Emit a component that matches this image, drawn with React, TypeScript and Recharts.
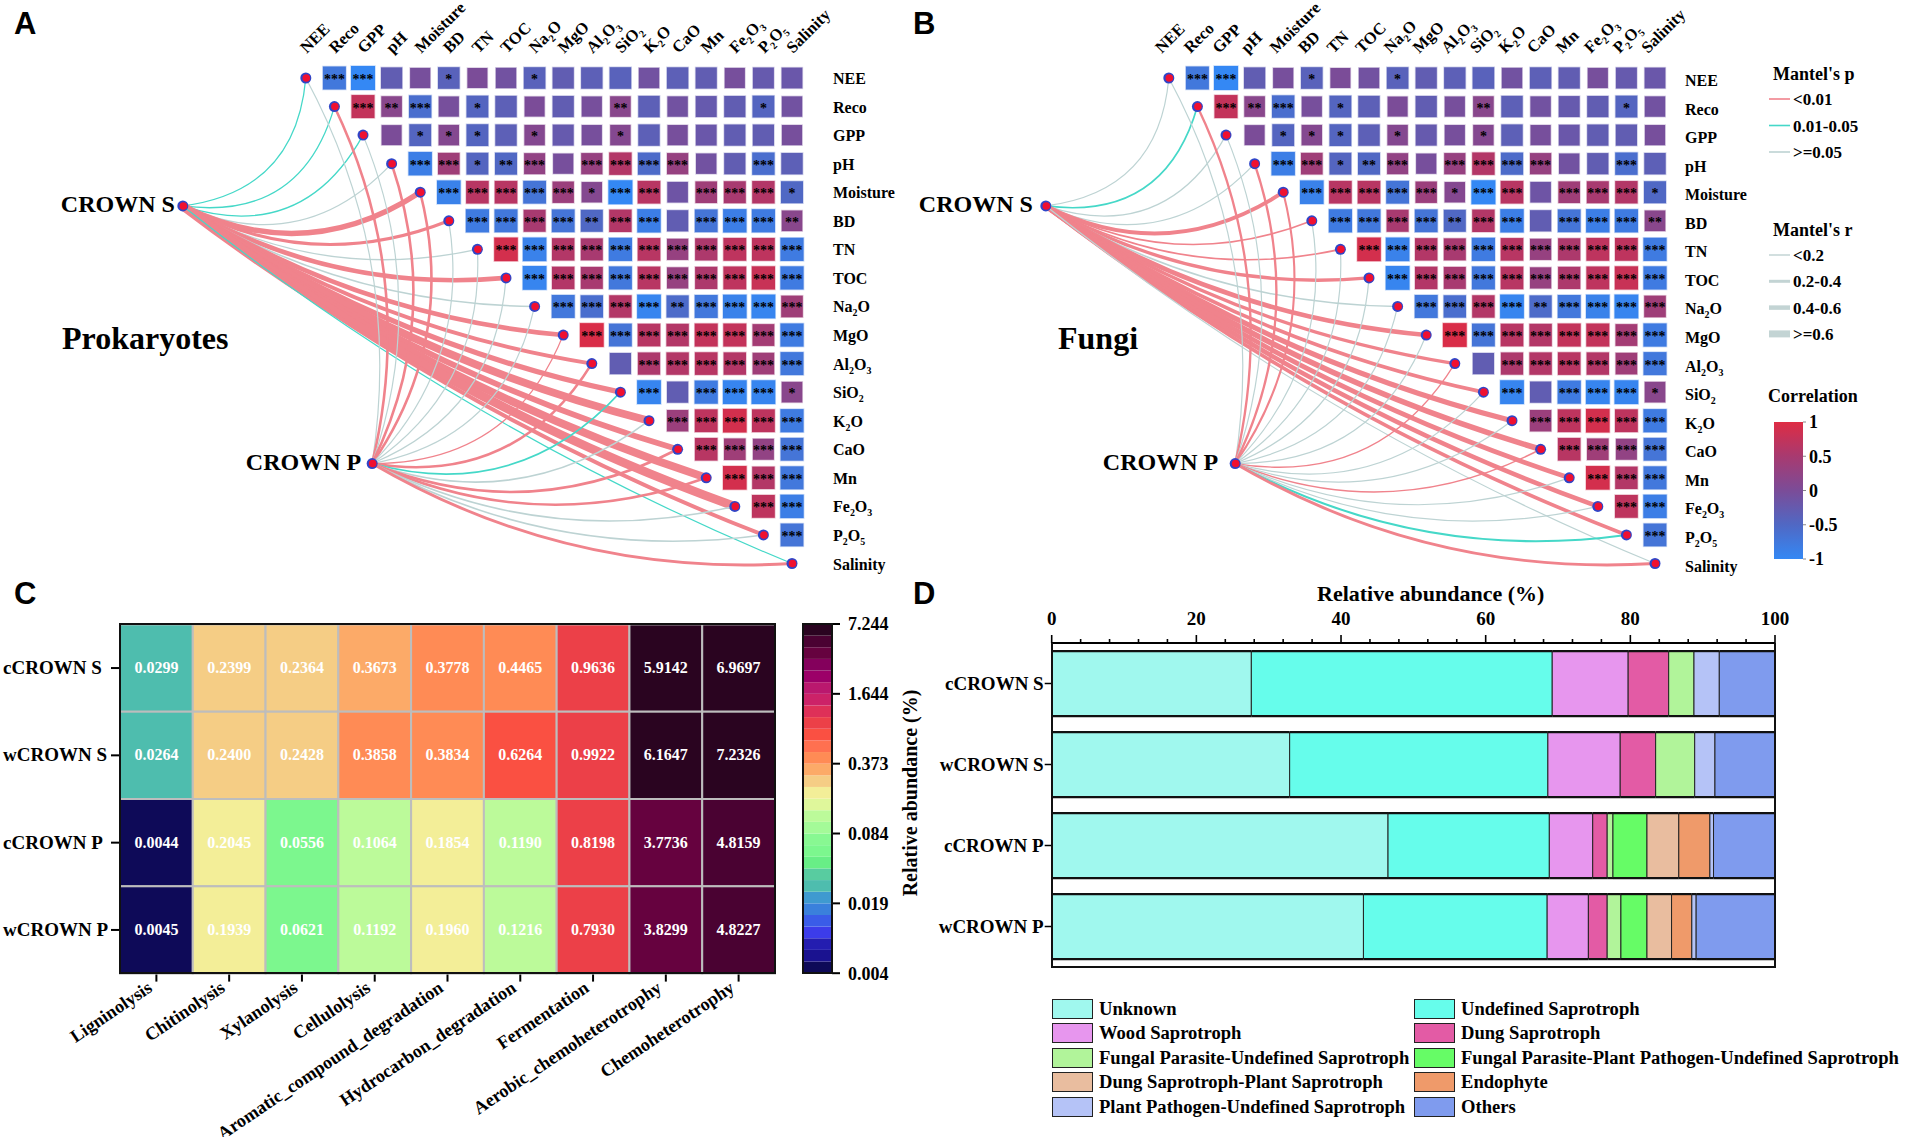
import { ScatterChart, Scatter, BarChart, Bar, XAxis, YAxis } from "recharts";

const SERIF = "'Liberation Serif', 'Times New Roman', serif";

// --- panels A and B ---
const envNames = ["NEE", "Reco", "GPP", "pH", "Moisture", "BD", "TN", "TOC", "Na2O", "MgO", "Al2O3", "SiO2", "K2O", "CaO", "Mn", "Fe2O3", "P2O5", "Salinity"];

// upper triangle, each row starts right of the diagonal
const corrRows = [
  [-0.75, -1, -0.3, -0.05, -0.4, 0, -0.1, -0.4, -0.3, -0.35, -0.4, -0.1, -0.35, -0.3, -0.05, -0.25, -0.2],
  [0.75, 0.15, -0.6, -0.05, -0.45, -0.35, 0, -0.3, -0.05, 0.15, -0.35, -0.1, -0.25, -0.3, -0.45, -0.1],
  [0, -0.45, 0.1, -0.45, -0.35, 0.1, -0.25, -0.05, 0.1, -0.35, -0.05, -0.2, -0.3, -0.3, -0.05],
  [-0.85, 0.4, -0.45, -0.5, 0.25, -0.05, 0.3, 0.6, -0.55, 0.3, -0.1, -0.3, -0.6, -0.35],
  [-0.9, 0.65, 0.65, -0.7, 0.35, 0.1, -1, 0.65, -0.15, 0.4, 0.5, 0.6, -0.5],
  [-0.8, -0.75, 0.5, -0.7, -0.5, 0.6, -0.85, -0.3, -0.7, -0.85, -0.8, 0.15],
  [0.9, -0.9, 0.6, 0.5, -0.8, 0.65, 0.3, 0.55, 0.7, 0.7, -0.8],
  [-0.95, 0.6, 0.5, -0.75, 0.65, 0.3, 0.55, 0.7, 0.8, -0.8],
  [-0.75, -0.6, 0.6, -0.95, -0.55, -0.75, -0.9, -0.95, 0.4],
  [0.95, -0.7, 0.65, 0.6, 0.75, 0.75, 0.45, -0.8],
  [-0.3, 0.55, 0.6, 0.65, 0.6, 0.4, -0.75],
  [-0.95, -0.3, -0.8, -0.95, -0.95, 0.15],
  [0.35, 0.7, 0.9, 0.7, -0.8],
  [0.65, 0.4, 0.25, -0.7],
  [0.9, 0.6, -0.75],
  [0.7, -0.85],
  [-0.7],
];

const starRows = [
  [3, 3, 0, 0, 1, 0, 0, 1, 0, 0, 0, 0, 0, 0, 0, 0, 0],
  [3, 2, 3, 0, 1, 0, 0, 0, 0, 2, 0, 0, 0, 0, 1, 0],
  [0, 1, 1, 1, 0, 1, 0, 0, 1, 0, 0, 0, 0, 0, 0],
  [3, 3, 1, 2, 3, 0, 3, 3, 3, 3, 0, 0, 3, 0],
  [3, 3, 3, 3, 3, 1, 3, 3, 0, 3, 3, 3, 1],
  [3, 3, 3, 3, 2, 3, 3, 0, 3, 3, 3, 2],
  [3, 3, 3, 3, 3, 3, 3, 3, 3, 3, 3],
  [3, 3, 3, 3, 3, 3, 3, 3, 3, 3],
  [3, 3, 3, 3, 2, 3, 3, 3, 3],
  [3, 3, 3, 3, 3, 3, 3, 3],
  [0, 3, 3, 3, 3, 3, 3],
  [3, 0, 3, 3, 3, 1],
  [3, 3, 3, 3, 3],
  [3, 3, 3, 3],
  [3, 3, 3],
  [3, 3],
  [3],
];

// Mantel p class (0: <0.01, 1: 0.01-0.05, 2: >=0.05) and Mantel r, one entry per variable
const prokSP = [1, 1, 1, 2, 0, 0, 2, 0, 2, 0, 0, 0, 0, 0, 0, 0, 0, 1];
const prokSR = [0.1, 0.1, 0.1, 0.1, 0.42, 0.24, 0.1, 0.36, 0.12, 0.36, 0.3, 0.4, 0.6, 0.44, 0.6, 0.68, 0.3, 0.08];
const prokPP = [2, 0, 2, 0, 0, 2, 2, 2, 2, 0, 0, 1, 2, 0, 0, 2, 2, 0];
const prokPR = [0.08, 0.2, 0.08, 0.2, 0.2, 0.08, 0.08, 0.08, 0.08, 0.09, 0.2, 0.12, 0.12, 0.2, 0.2, 0.12, 0.12, 0.22];

const fungiSP = [2, 1, 2, 2, 0, 0, 0, 0, 2, 0, 0, 0, 0, 0, 0, 0, 0, 2];
const fungiSR = [0.08, 0.13, 0.08, 0.08, 0.3, 0.13, 0.13, 0.26, 0.12, 0.36, 0.26, 0.28, 0.4, 0.44, 0.36, 0.36, 0.28, 0.08];
const fungiPP = [2, 0, 2, 0, 0, 2, 2, 2, 2, 2, 0, 2, 2, 0, 2, 2, 1, 0];
const fungiPR = [0.08, 0.18, 0.08, 0.18, 0.16, 0.08, 0.08, 0.08, 0.08, 0.08, 0.1, 0.08, 0.08, 0.12, 0.08, 0.08, 0.16, 0.22];

// hubs sit in the same row/column space as the variables
const hubS = { x: -4.3, y: 4.48 };
const hubP = { x: 2.32, y: 13.5 };

// how strongly a link bows, by the angle it leaves its hub at
const bendS = { base: 0.03, amp: 0.4, c0: -30, neg: 60, pos: 40 };
const bendP = { base: 0.1, amp: 0.24, c0: -30, neg: 62, pos: 35 };

const mantelColors = ["#F0838C", "#45D8C8", "#BDD3D3"];
const corrStops = ["#3488F4", "#5068C4", "#7B4C98", "#A83A70", "#DE2C44"];

const mix = (a: string, b: string, t: number) => {
  const pa = [1, 3, 5].map((i) => parseInt(a.slice(i, i + 2), 16));
  const pb = [1, 3, 5].map((i) => parseInt(b.slice(i, i + 2), 16));
  return `rgb(${pa.map((v, i) => Math.round(v + (pb[i] - v) * t)).join(",")})`;
};
const corrColor = (r: number) => {
  const t = ((r + 1) / 2) * (corrStops.length - 1);
  const i = Math.min(Math.floor(t), corrStops.length - 2);
  return mix(corrStops[i], corrStops[i + 1], t - i);
};

const corrCells = corrRows.flatMap((row, i) =>
  row.map((r, k) => ({ x: i + 1 + k, y: i, r, stars: starRows[i][k] }))
);
const nodes = envNames.map((name, i) => ({ x: i, y: i, name }));
const envTicks = envNames.map((_, i) => i);

// name with digits as subscripts
const subName = (name: string, size: number) => {
  const parts = name.split(/(\d)/).filter(Boolean);
  let sub = false;
  return parts.map((p, i) => {
    const isNum = /\d/.test(p);
    const dy = isNum ? 4 : sub ? -4 : 0;
    sub = isNum;
    return (
      <tspan key={i} dy={dy} fontSize={isNum ? size * 0.62 : size}>
        {p}
      </tspan>
    );
  });
};

const curveLine = (color: string, width: number, bend: any) => (props: any) => {
  const [a, b] = props.points;
  const dx = b.x - a.x;
  const dy = b.y - a.y;
  const deg = (Math.atan2(dy, dx) * 180) / Math.PI;
  const w = deg < bend.c0 ? bend.neg : bend.pos;
  const c = bend.base + bend.amp * Math.exp(-Math.pow((deg - bend.c0) / w, 2));
  const cx = (a.x + b.x) / 2 - dy * c;
  const cy = (a.y + b.y) / 2 + dx * c;
  return <path d={`M${a.x},${a.y} Q${cx},${cy} ${b.x},${b.y}`} fill="none" stroke={color} strokeWidth={width} />;
};

const cellShape = (p: any) => {
  const size = 20 + Math.abs(p.payload.r) * 4;
  const fill = corrColor(p.payload.r);
  return (
    <g>
      <rect x={p.cx - size / 2} y={p.cy - size / 2} width={size} height={size} fill={fill} stroke={fill} strokeOpacity={0.3} strokeWidth={1.5} />
      {p.payload.stars > 0 && (
        <text x={p.cx} y={p.cy + 6} textAnchor="middle" fontFamily={SERIF} fontWeight={700} fontSize={14} fill="#000">
          {"*".repeat(p.payload.stars)}
        </text>
      )}
    </g>
  );
};

const nodeShape = (p: any) => (
  <g>
    <circle cx={p.cx} cy={p.cy} r={5.5} fill="#2F45C8" />
    <circle cx={p.cx + 0.5} cy={p.cy} r={3.8} fill="#F01030" />
  </g>
);

const hubShape = (label: string, gap: number) => (p: any) => (
  <g>
    {nodeShape(p)}
    <text x={p.cx - gap} y={p.cy + 6} textAnchor="end" fontFamily={SERIF} fontWeight={700} fontSize={24} fill="#000">
      {label}
    </text>
  </g>
);

const topTick = (shift: number) => (p: any) => (
  <text transform={`translate(${p.x + shift},${p.y - 16}) rotate(-45)`} fontFamily={SERIF} fontWeight={700} fontSize={16.5} fill="#000">
    {subName(envNames[p.payload.value], 16.5)}
  </text>
);

const rowTick = (gap: number, drop: number) => (p: any) => (
  <text x={p.x + gap} y={p.y + 5 + drop} fontFamily={SERIF} fontWeight={700} fontSize={16} fill="#000">
    {subName(envNames[p.payload.value], 16)}
  </text>
);

function Network({ left, width, marginLeft, tickGap, tickDrop, topShift, gapS, gapP, sP, sR, pP, pR }: any) {
  const links = [
    ...sP.map((cls: number, i: number) => ({ hub: hubS, i, cls, r: sR[i], bend: bendS })),
    ...pP.map((cls: number, i: number) => ({ hub: hubP, i, cls, r: pR[i], bend: bendP })),
  ];
  return (
    <div style={{ position: "absolute", left, top: -20 }}>
      <ScatterChart width={width} height={610} margin={{ top: 0, right: 0, bottom: 26.5, left: marginLeft }}>
        <XAxis type="number" dataKey="x" orientation="top" domain={[-8, 17]} ticks={envTicks} interval={0} height={98} axisLine={false} tickLine={false} tick={topTick(topShift)} />
        <YAxis type="number" dataKey="y" orientation="right" domain={[0, 17]} reversed ticks={envTicks} interval={0} width={width - marginLeft - 715} axisLine={false} tickLine={false} tickSize={0} tickMargin={0} tick={rowTick(tickGap, tickDrop)} />
        {links.map((l: any, k: number) => (
          <Scatter
            key={k}
            data={[{ x: l.hub.x, y: l.hub.y }, nodes[l.i]]}
            line={curveLine(mantelColors[l.cls], Math.max(1.2, l.r * 13), l.bend)}
            shape={() => <g />}
            legendType="none"
            isAnimationActive={false}
          />
        ))}
        <Scatter data={corrCells} shape={cellShape} isAnimationActive={false} />
        <Scatter data={nodes} shape={nodeShape} isAnimationActive={false} />
        <Scatter data={[hubS]} shape={hubShape("CROWN S", gapS)} isAnimationActive={false} />
        <Scatter data={[hubP]} shape={hubShape("CROWN P", gapP)} isAnimationActive={false} />
      </ScatterChart>
    </div>
  );
}

// --- legends next to panel B ---
const mantelPLabels = ["<0.01", "0.01-0.05", ">=0.05"];
const mantelRLabels = ["<0.2", "0.2-0.4", "0.4-0.6", ">=0.6"];
const mantelRWidths = [1.5, 3, 4.5, 7];

function MantelLegend() {
  const t = { fontFamily: SERIF, fontWeight: 700, fill: "#000" };
  return (
    <svg style={{ position: "absolute", left: 1760, top: 60 }} width={148} height={360}>
      <text x={13} y={20} fontSize={18} {...t}>Mantel's p</text>
      {mantelPLabels.map((s, i) => (
        <g key={s}>
          <line x1={9} x2={30} y1={39 + i * 26.5} y2={39 + i * 26.5} stroke={mantelColors[i]} strokeWidth={1.6} />
          <text x={33} y={45 + i * 26.5} fontSize={17} {...t}>{s}</text>
        </g>
      ))}
      <text x={13} y={176} fontSize={18} {...t}>Mantel's r</text>
      {mantelRLabels.map((s, i) => (
        <g key={s}>
          <line x1={9} x2={30} y1={195 + i * 26.3} y2={195 + i * 26.3} stroke="#C3D4D4" strokeWidth={mantelRWidths[i]} />
          <text x={33} y={201 + i * 26.3} fontSize={17} {...t}>{s}</text>
        </g>
      ))}
      <text x={8} y={342} fontSize={18} {...t}>Correlation</text>
    </svg>
  );
}

const corrTicks = [-1, -0.5, 0, 0.5, 1];
const corrBar = [{ name: "corr", range: [-1, 1] }];

function CorrBar() {
  return (
    <div style={{ position: "absolute", left: 1774, top: 412 }}>
      <BarChart width={100} height={157} data={corrBar} margin={{ top: 10, right: 0, bottom: 10, left: 0 }} barCategoryGap={0}>
        <defs>
          <linearGradient id="corrGrad" x1="0" y1="1" x2="0" y2="0">
            {corrStops.map((c, i) => (
              <stop key={c} offset={i / (corrStops.length - 1)} stopColor={c} />
            ))}
          </linearGradient>
        </defs>
        <XAxis dataKey="name" hide />
        <YAxis type="number" orientation="right" domain={[-1, 1]} ticks={corrTicks} interval={0} width={71} axisLine={false} tickSize={3} tickMargin={3} tickLine={{ stroke: "#888" }} tick={{ fontFamily: SERIF, fontWeight: 700, fontSize: 18, fill: "#000" }} />
        <Bar dataKey="range" fill="url(#corrGrad)" isAnimationActive={false} />
      </BarChart>
    </div>
  );
}

// --- panel C ---
const heatCols = ["Ligninolysis", "Chitinolysis", "Xylanolysis", "Cellulolysis", "Aromatic_compound_degradation", "Hydrocarbon_degradation", "Fermentation", "Aerobic_chemoheterotrophy", "Chemoheterotrophy"];
const heatRows = ["cCROWN S", "wCROWN S", "cCROWN P", "wCROWN P"];
const cCrownS = [0.0299, 0.2399, 0.2364, 0.3673, 0.3778, 0.4465, 0.9636, 5.9142, 6.9697];
const wCrownS = [0.0264, 0.24, 0.2428, 0.3858, 0.3834, 0.6264, 0.9922, 6.1647, 7.2326];
const cCrownP = [0.0044, 0.2045, 0.0556, 0.1064, 0.1854, 0.119, 0.8198, 3.7736, 4.8159];
const wCrownP = [0.0045, 0.1939, 0.0621, 0.1192, 0.196, 0.1216, 0.793, 3.8299, 4.8227];
const heatScaleTicks = ["0.004", "0.019", "0.084", "0.373", "1.644", "7.244"];

// colour levels, highest value first
const heatLevels = ["#2A0420", "#4A0232", "#66023F", "#84005C", "#9C0068", "#BA186E", "#CC2268", "#DE3058", "#EC4048", "#FA5042", "#FF7050", "#FF8B55", "#FCAA68", "#F5CD85", "#F3EE98", "#DFF79B", "#BCFA9A", "#A4FA98", "#88F892", "#7CF78E", "#68EE86", "#58CCA0", "#4EBDAE", "#3F9AD0", "#3A80DC", "#3A5CE8", "#3C3CEA", "#241DB0", "#1A1290", "#0E0A58"];

const heatColor = (v: number) => {
  const f = Math.log(v / 0.004) / Math.log(7.244 / 0.004);
  const i = Math.floor((1 - f) * heatLevels.length + 0.1);
  return heatLevels[Math.max(0, Math.min(heatLevels.length - 1, i))];
};

const heatCells = [cCrownS, wCrownS, cCrownP, wCrownP].flatMap((row, y) => row.map((v, x) => ({ x, y, v })));

const heatShape = (p: any) => {
  const w = 655 / 9;
  const h = 349.2 / 4;
  return (
    <g>
      <rect x={p.cx - w / 2} y={p.cy - h / 2} width={w} height={h} fill={heatColor(p.payload.v)} stroke="#BDBDBD" strokeWidth={2} />
      <text x={p.cx} y={p.cy + 5} textAnchor="middle" fontFamily={SERIF} fontWeight={700} fontSize={16} fill="#fff">
        {p.payload.v.toFixed(4)}
      </text>
    </g>
  );
};

const HeatXTick = (p: any) => (
  <text transform={`translate(${p.x - 3},${p.y + 7}) rotate(-34)`} textAnchor="end" fontFamily={SERIF} fontWeight={700} fontSize={18.2} fill="#000">
    {heatCols[p.payload.value]}
  </text>
);

const HeatYTick = (p: any) => (
  <text x={3} y={p.y + 6} fontFamily={SERIF} fontWeight={700} fontSize={19} fill="#000">
    {heatRows[p.payload.value]}
  </text>
);

function Heatmap() {
  return (
    <div style={{ position: "absolute", left: 0, top: 580 }}>
      <ScatterChart width={800} height={557} margin={{ top: 44.4, right: 25, bottom: 13.4, left: 10 }}>
        <XAxis type="number" dataKey="x" domain={[-0.5, 8.5]} ticks={[0, 1, 2, 3, 4, 5, 6, 7, 8]} interval={0} height={150} tickSize={8} axisLine={false} tickLine={{ stroke: "#000", strokeWidth: 2 }} tick={<HeatXTick />} />
        <YAxis type="number" dataKey="y" domain={[-0.5, 3.5]} reversed ticks={[0, 1, 2, 3]} interval={0} width={110} tickSize={9} axisLine={false} tickLine={{ stroke: "#000", strokeWidth: 2 }} tick={<HeatYTick />} />
        <Scatter data={heatCells} shape={heatShape} isAnimationActive={false} />
      </ScatterChart>
    </div>
  );
}

const heatScaleRow = [Object.fromEntries(heatLevels.map((_, i) => [`l${i}`, 1]))];

function HeatScale() {
  const reversedLevels = [...heatLevels].reverse();
  return (
    <div style={{ position: "absolute", left: 803, top: 614.4 }}>
      <BarChart width={100} height={369.2} data={heatScaleRow} margin={{ top: 10, right: 0, bottom: 10, left: 0 }} barCategoryGap={0}>
        <XAxis hide />
        <YAxis
          type="number"
          orientation="right"
          domain={[0, 30]}
          ticks={[0, 6, 12, 18, 24, 30]}
          interval={0}
          width={71}
          axisLine={false}
          tickSize={8}
          tickMargin={8}
          tickLine={{ stroke: "#000", strokeWidth: 2 }}
          tickFormatter={(v: number) => heatScaleTicks[v / 6]}
          tick={{ fontFamily: SERIF, fontWeight: 700, fontSize: 18, fill: "#000" }}
        />
        {reversedLevels.map((c, i) => (
          <Bar key={c} dataKey={`l${heatLevels.length - 1 - i}`} stackId="s" fill={c} isAnimationActive={false} />
        ))}
      </BarChart>
    </div>
  );
}

// --- panel D ---
const guilds = ["cCROWN S", "wCROWN S", "cCROWN P", "wCROWN P"];
const unknown = [27.6, 32.9, 46.5, 43.1];
const undefinedSap = [41.6, 35.7, 22.3, 25.4];
const woodSap = [10.5, 10.0, 6.0, 5.7];
const dungSap = [5.6, 4.9, 2.0, 2.6];
const fungalUndefined = [3.5, 5.4, 0.8, 1.9];
const fungalPlantUndefined = [0, 0, 4.7, 3.6];
const dungPlant = [0, 0, 4.4, 3.4];
const endophyte = [0, 0, 4.3, 2.8];
const plantUndefined = [3.5, 2.8, 0.5, 0.6];
const others = [7.7, 8.3, 8.5, 10.9];

const guildSeries = [
  { name: "Unknown", values: unknown, color: "#A0F8EE" },
  { name: "Undefined Saprotroph", values: undefinedSap, color: "#66FDEB" },
  { name: "Wood Saprotroph", values: woodSap, color: "#E796EE" },
  { name: "Dung Saprotroph", values: dungSap, color: "#E35BA5" },
  { name: "Fungal Parasite-Undefined Saprotroph", values: fungalUndefined, color: "#B1F49A" },
  { name: "Fungal Parasite-Plant Pathogen-Undefined Saprotroph", values: fungalPlantUndefined, color: "#66FC66" },
  { name: "Dung Saprotroph-Plant Saprotroph", values: dungPlant, color: "#E9BD9F" },
  { name: "Endophyte", values: endophyte, color: "#EF9A6A" },
  { name: "Plant Pathogen-Undefined Saprotroph", values: plantUndefined, color: "#B5C3F7" },
  { name: "Others", values: others, color: "#7F9BEE" },
];
const guildRows = guilds.map((name, i) => {
  const row: any = { name };
  guildSeries.forEach((s) => (row[s.name] = s.values[i]));
  return row;
});
const abundanceTicks = [0, 4, 8, 12, 16, 20, 24, 28, 32, 36, 40, 44, 48, 52, 56, 60, 64, 68, 72, 76, 80, 84, 88, 92, 96, 100];

const segShape = (p: any) => {
  if (!p.width || p.width <= 0) return <g />;
  const { x, y, width, height, fill } = p;
  return (
    <g>
      <rect x={x} y={y} width={width} height={height} fill={fill} />
      <line x1={x} x2={x} y1={y} y2={y + height} stroke="#222" strokeWidth={1} />
      <line x1={x + width} x2={x + width} y1={y} y2={y + height} stroke="#222" strokeWidth={1} />
      <line x1={x} x2={x + width} y1={y} y2={y} stroke="#111" strokeWidth={2.2} />
      <line x1={x} x2={x + width} y1={y + height} y2={y + height} stroke="#111" strokeWidth={2.2} />
    </g>
  );
};

const AbundanceTick = (p: any) => {
  const major = p.payload.value % 20 === 0;
  return (
    <g>
      <line x1={p.x} x2={p.x} y1={p.y} y2={p.y - (major ? 8 : 4)} stroke="#000" strokeWidth={1.6} />
      {major && (
        <text x={p.x} y={p.y - 18} textAnchor="middle" fontFamily={SERIF} fontWeight={700} fontSize={19} fill="#000">
          {p.payload.value}
        </text>
      )}
    </g>
  );
};

function Guilds() {
  return (
    <div style={{ position: "absolute", left: 900, top: 580 }}>
      <BarChart width={1008} height={557} layout="vertical" data={guildRows} margin={{ top: 0, right: 133, bottom: 170, left: 0 }} barCategoryGap="10%">
        <XAxis type="number" orientation="top" domain={[0, 100]} ticks={abundanceTicks} interval={0} height={63} tickSize={0} tickMargin={0} tickLine={false} axisLine={{ stroke: "#000", strokeWidth: 2 }} tick={<AbundanceTick />} />
        <YAxis type="category" dataKey="name" width={151.7} tickSize={7} tickMargin={1} axisLine={false} tickLine={{ stroke: "#000", strokeWidth: 1.5 }} tick={{ fontFamily: SERIF, fontWeight: 700, fontSize: 19, fill: "#000" }} />
        {guildSeries.map((s) => (
          <Bar key={s.name} dataKey={s.name} stackId="g" fill={s.color} shape={segShape} isAnimationActive={false} />
        ))}
      </BarChart>
    </div>
  );
}

const legendLeft = [0, 2, 4, 6, 8];
const legendRight = [1, 3, 5, 7, 9];

function GuildLegend() {
  const col = (order: number[], left: number, textLeft: number) =>
    order.map((k, i) => {
      const s = guildSeries[k];
      return (
        <div key={s.name}>
          <div style={{ position: "absolute", left, top: 999 + i * 24.4, width: 39, height: 18, background: s.color, border: "1.5px solid #222" }} />
          <div style={{ position: "absolute", left: textLeft, top: 999 + i * 24.4, lineHeight: "20px", fontSize: 18.6, whiteSpace: "nowrap" }}>{s.name}</div>
        </div>
      );
    });
  return (
    <div style={{ fontFamily: SERIF, fontWeight: 700, color: "#000" }}>
      {col(legendLeft, 1052, 1099)}
      {col(legendRight, 1414, 1461)}
    </div>
  );
}

const textBase: any = { position: "absolute", fontFamily: SERIF, fontWeight: 700, color: "#000", whiteSpace: "nowrap" };
const letter: any = { position: "absolute", fontFamily: "'Liberation Sans', sans-serif", fontWeight: 700, fontSize: 31, lineHeight: "31px", color: "#000" };
const frame: any = { position: "absolute", boxSizing: "border-box", borderStyle: "solid", borderColor: "#111", pointerEvents: "none" };

export default function App() {
  return (
    <div style={{ position: "absolute", left: 0, top: 0, width: 1908, height: 1137, background: "#fff", overflow: "hidden" }}>
      <Network left={0} width={900} marginLeft={77} tickGap={41} tickDrop={1} topShift={1} gapS={8} gapP={11} sP={prokSP} sR={prokSR} pP={prokPP} pR={prokPR} />
      <Network left={900} width={875} marginLeft={40} tickGap={30} tickDrop={3} topShift={-7} gapS={13} gapP={17} sP={fungiSP} sR={fungiSR} pP={fungiPP} pR={fungiPR} />
      <MantelLegend />
      <CorrBar />
      <Heatmap />
      <div style={{ ...frame, left: 119, top: 623.4, width: 657, height: 351, borderWidth: 2.5 }} />
      <HeatScale />
      <div style={{ ...frame, left: 802, top: 623.4, width: 31, height: 351, borderWidth: 2 }} />
      <Guilds />
      <div style={{ ...frame, left: 1050.7, top: 643, width: 725.3, height: 325, borderWidth: "0 2px 2px 2px" }} />
      <GuildLegend />
      <div style={{ ...textBase, left: 62, top: 320, fontSize: 32, lineHeight: "36px" }}>Prokaryotes</div>
      <div style={{ ...textBase, left: 1058, top: 320, fontSize: 32, lineHeight: "36px" }}>Fungi</div>
      <div style={{ ...textBase, left: 1317, top: 582, fontSize: 22, lineHeight: "24px" }}>Relative abundance (%)</div>
      <div style={{ ...textBase, left: 910, top: 793, fontSize: 20, lineHeight: "22px", transform: "translate(-50%,-50%) rotate(-90deg)" }}>Relative abundance (%)</div>
      <div style={{ ...letter, left: 14, top: 8 }}>A</div>
      <div style={{ ...letter, left: 913, top: 8 }}>B</div>
      <div style={{ ...letter, left: 14, top: 578 }}>C</div>
      <div style={{ ...letter, left: 913, top: 578 }}>D</div>
    </div>
  );
}
